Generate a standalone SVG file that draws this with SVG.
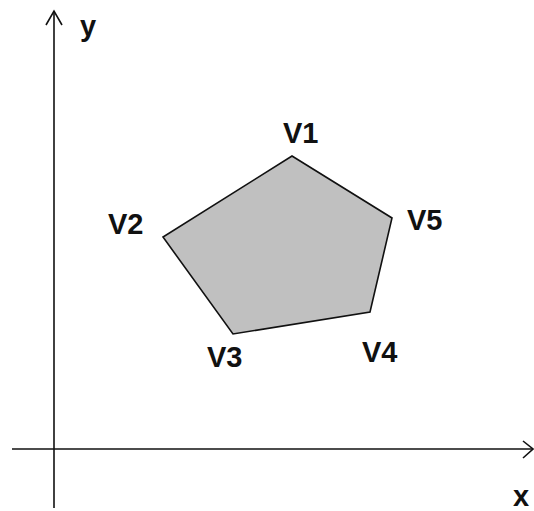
<svg xmlns="http://www.w3.org/2000/svg" width="534" height="511" viewBox="0 0 534 511">
<style>
.axis{stroke:#111;stroke-width:1.6;fill:none}
.lbl{font-family:"Liberation Sans",Arial,sans-serif;font-size:29px;font-weight:bold;fill:#111}
</style>
<rect width="534" height="511" fill="#fff"/>
<g id="axes" class="axis">
<line x1="54" y1="11" x2="54" y2="508"/>
<polyline points="46,25 54,11 62,25"/>
<line x1="12" y1="449" x2="533" y2="449"/>
<polyline points="523,441 533,449 523,458"/>
</g>
<g id="polygon">
<polygon points="292,156 392,218 370,312 233,334 163,237" fill="#c0c0c0" stroke="#111" stroke-width="1.6"/>
</g>
<g id="labels">
<text class="lbl" x="80" y="36">y</text>
<text class="lbl" x="513" y="506">x</text>
<text class="lbl" x="283" y="143">V1</text>
<text class="lbl" x="108" y="234">V2</text>
<text class="lbl" x="207" y="367">V3</text>
<text class="lbl" x="362" y="362">V4</text>
<text class="lbl" x="407" y="230">V5</text>
</g>
</svg>
